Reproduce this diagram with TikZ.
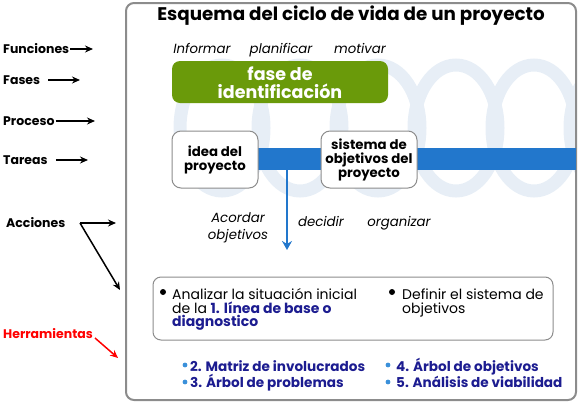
\documentclass[tikz,border=0pt]{standalone}
\usepackage{fontspec}
\setmainfont{Poppins}
\usetikzlibrary{arrows.meta,calc}
\definecolor{boxgray}{HTML}{8C8C8C}
\definecolor{fgreen}{HTML}{6A9A0A}
\definecolor{barblue}{HTML}{2277CC}
\definecolor{ringblue}{HTML}{E7EEF6}
\definecolor{toolblue}{HTML}{1C1C90}
\definecolor{dotblue}{HTML}{3A90DA}
\begin{document}
\begin{tikzpicture}[x=1pt,y=-1pt,
  lab/.style={anchor=base west,inner sep=0pt,font=\fontsize{12.5}{14}\selectfont\bfseries},
  arr/.style={-{Stealth[length=8pt,width=7pt]},line width=1.5pt},
  func/.style={inner sep=0pt,anchor=base,font=\fontsize{13.3}{15}\selectfont\itshape},
  taskbox/.style={draw=boxgray,line width=1pt,rounded corners=9pt,fill=white,align=center,
    font=\fontsize{13.3}{14}\selectfont\bfseries,inner sep=0pt,minimum height=57pt},
  body/.style={inner sep=0pt,align=left,anchor=base west,font=\fontsize{14}{13.5}\selectfont},
  tool/.style={inner sep=0pt,align=left,anchor=base west,text=toolblue,font=\fontsize{13.6}{16.5}\selectfont\bfseries},
  ]
\useasboundingbox (0,0) rectangle (578,410);
% background rings
\begin{scope}
  \clip[rounded corners=8pt] (126,3) rectangle (576,400);
  \foreach \cx in {222,300,378,456,534,612}
    \draw[ringblue,line width=13pt] (\cx,128) ellipse [x radius=42, y radius=63];
\end{scope}
% outer frame
\node[draw=boxgray,line width=2pt,rounded corners=8pt,minimum width=450pt,minimum height=397pt,inner sep=0pt] (frame) at (351,201.5) {};
% title
\node[inner sep=0pt,anchor=base,font=\fontsize{18.3}{20}\selectfont\bfseries] (title) at (351,20) {Esquema del ciclo de vida de un proyecto};
% left labels
\node[lab] (fun) at (3,53.5) {Funciones};
\node[lab] (fas) at (3,84.5) {Fases};
\node[lab] (pro) at (3,125.5) {Proceso};
\node[lab] (tar) at (3,164.5) {Tareas};
\node[lab] (acc) at (6,227.5) {Acciones};
\node[lab,text=red] (her) at (3,338.5) {Herramientas};
\coordinate (funE) at (93,49);
\coordinate (fasE) at (80,80);
\coordinate (proE) at (95,121);
\coordinate (tarE) at (88,160);
\coordinate (accS) at (80,223);
\coordinate (accE1) at (116,223);
\coordinate (accE2) at (120,290);
\coordinate (herS) at (95,338);
\coordinate (herE) at (118,358);
\draw[arr] (fun.east |- funE) ++(1,0) -- (funE);
\draw[arr] (fas.east |- fasE) ++(8,0) -- (fasE);
\draw[arr] (pro.east |- proE) ++(1,0) -- (proE);
\draw[arr] (tar.east |- tarE) ++(8,0) -- (tarE);
\draw[arr] (accS) -- (accE1);
\draw[arr] (accS) -- (accE2);
\draw[arr,red] (herS) -- (herE);
% functions
\node[func] (inf) at (202,53) {Informar};
\node[func] (pla) at (281,53) {planificar};
\node[func] (mot) at (360,53) {motivar};
% phase
\node[fill=fgreen,rounded corners=8pt,minimum width=216pt,minimum height=42pt,inner sep=0pt] (fase) at (280,82) {};
\node[text=white,align=center,inner sep=0pt,anchor=base,font=\fontsize{17.5}{18}\selectfont\bfseries] (fasetxt) at (280,98) {fase de\\identificación};
% process bar
\node[fill=barblue,minimum width=318pt,minimum height=22pt,inner sep=0pt] (bar) at (417,159) {};
% tasks
\node[taskbox,minimum width=86pt] (idea) at (215,159.5) {idea del\\proyecto};
\node[taskbox,minimum width=96pt] (sist) at (369,159.5) {sistema de\\objetivos del\\proyecto};
% actions arrow
\coordinate (actE) at (287,250);
\draw[barblue,line width=2pt,-{Stealth[length=9pt,width=10pt]}] (bar.south -| actE) -- (actE);
\node[func,align=center,font=\fontsize{13.3}{17}\selectfont\itshape] (acor) at (238,239.5) {Acordar\\objetivos};
\node[func] (dec) at (321,226) {decidir};
\node[func] (org) at (399,226) {organizar};
% actions box
\node[draw=boxgray,line width=1pt,rounded corners=8pt,minimum width=400pt,minimum height=63pt,inner sep=0pt] (abox) at (353,308.5) {};
\fill (163,292) circle (3);
\fill (392,292) circle (3);
\node[body] (an) at (172,326.5) {Analizar la situación inicial\\de la \textcolor{toolblue}{\bfseries 1. línea de base o}\\\textcolor{toolblue}{\bfseries diagnostico}};
\node[body] (def) at (402,313) {Definir el sistema de\\objetivos};
% tools
\fill[dotblue] (185,365) circle (2.4);
\fill[dotblue] (185,382) circle (2.4);
\fill[dotblue] (388,365) circle (2.4);
\fill[dotblue] (388,382) circle (2.4);
\node[tool] (t1) at (190,387.5) {2. Matriz de involucrados\\3. Árbol de problemas};
\node[tool] (t2) at (396,387.5) {4. Árbol de objetivos\\5. Análisis de viabilidad};
\end{tikzpicture}
\end{document}
